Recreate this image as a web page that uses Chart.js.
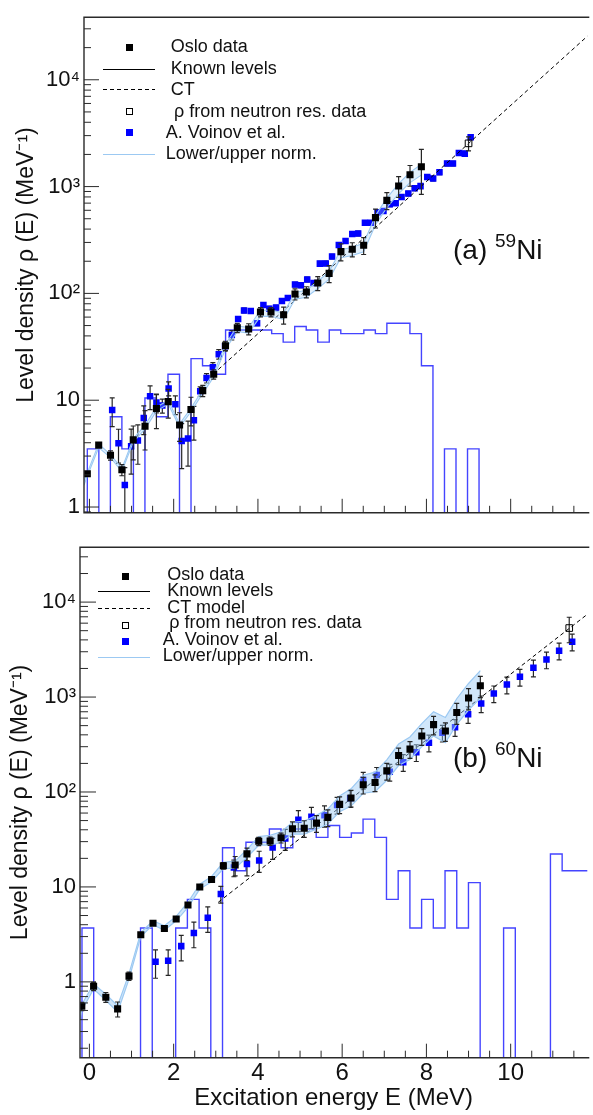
<!DOCTYPE html>
<html>
<head>
<meta charset="utf-8">
<script src="https://cdn.jsdelivr.net/npm/chart.js@4.4.1/dist/chart.umd.min.js"></script>
<style>
  body { margin: 0; background: #fff; }
  #wrap { position: relative; width: 593px; height: 1115px; overflow: hidden;
          font-family: "Liberation Sans", Arial, Helvetica, sans-serif; color: #111; }
  canvas { position: absolute; left: 0; }
  .lg { position: absolute; font-size: 18px; line-height: 18px; white-space: nowrap; }
  .sq { position: absolute; width: 7px; height: 7px; box-sizing: border-box; }
  .ln { position: absolute; width: 52px; height: 1px; }
  .dash { background: repeating-linear-gradient(to right, #000 0 4px, transparent 4px 7px); }
  .tag { position: absolute; font-size: 28px; line-height: 28px; white-space: nowrap; }
  .tag span { font-size: 19px; position: relative; top: -12px; }
</style>
</head>
<body>
<div id="wrap">
  <canvas id="cA" width="593" height="530" style="top:0"></canvas>
  <canvas id="cB" width="593" height="585" style="top:530px"></canvas>

  <!-- legend (a) -->
  <div class="sq" style="left:125.5px;top:43.8px;background:#000"></div>
  <div class="ln" style="left:103px;top:68.5px;background:#000"></div>
  <div class="ln dash" style="left:103px;top:88.5px"></div>
  <div class="sq" style="left:125.5px;top:107.5px;border:1px solid #000"></div>
  <div class="sq" style="left:125.5px;top:129.2px;background:#0000ff"></div>
  <div class="ln" style="left:103px;top:153.5px;height:1.5px;background:#9cc9f2"></div>
  <div class="lg" style="left:170.7px;top:37px">Oslo data</div>
  <div class="lg" style="left:170.7px;top:59.2px">Known levels</div>
  <div class="lg" style="left:170.7px;top:80.2px">CT</div>
  <div class="lg" style="left:174px;top:101.7px">ρ from neutron res. data</div>
  <div class="lg" style="left:165.7px;top:122.7px">A. Voinov et al.</div>
  <div class="lg" style="left:165.7px;top:143.7px">Lower/upper norm.</div>
  <div class="tag" style="left:453px;top:236.3px">(a) <span>59</span>Ni</div>

  <!-- legend (b) -->
  <div class="sq" style="left:121.5px;top:572.5px;background:#000"></div>
  <div class="ln" style="left:98px;top:590.5px;background:#000"></div>
  <div class="ln dash" style="left:98px;top:608px"></div>
  <div class="sq" style="left:121.5px;top:621.5px;border:1px solid #000"></div>
  <div class="sq" style="left:121.5px;top:637.5px;background:#0000ff"></div>
  <div class="ln" style="left:98px;top:656.5px;height:1.5px;background:#9cc9f2"></div>
  <div class="lg" style="left:167.3px;top:564.5px">Oslo data</div>
  <div class="lg" style="left:167.3px;top:581.2px">Known levels</div>
  <div class="lg" style="left:167.3px;top:597.5px">CT model</div>
  <div class="lg" style="left:169.3px;top:612.9px">ρ from neutron res. data</div>
  <div class="lg" style="left:162.7px;top:630.2px">A. Voinov et al.</div>
  <div class="lg" style="left:162.7px;top:646.2px">Lower/upper norm.</div>
  <div class="tag" style="left:453px;top:743.8px">(b) <span>60</span>Ni</div>
</div>

<script>
// ---------- panel (a): 59Ni ----------
const osloAE = [-0.05, 0.22, 0.50, 0.77, 1.04, 1.32, 1.59, 1.87, 2.14, 2.41, 2.69, 2.95, 3.23, 3.51, 3.78,
  4.06, 4.31, 4.61, 4.88, 5.15, 5.42, 5.69, 5.97, 6.24, 6.51, 6.79, 7.06, 7.34, 7.61, 7.88];
const osloAV = [2.05, 3.8, 3.05, 2.23, 4.25, 5.7, 8.35, 9.7, 5.87, 8.2, 12.3, 17.5, 32.4, 47.7, 46.4,
  67, 67, 63, 98.6, 103, 125, 154, 246, 259, 282, 512, 743, 1014, 1291, 1535];
const osloAErr = [0.04, 0.04, 0.1, 0.12, 0.35, 0.4, 0.35, 0.3, 0.3, 0.3, 0.12, 0.1, 0.1, 0.1, 0.12,
  0.1, 0.1, 0.18, 0.12, 0.12, 0.15, 0.18, 0.18, 0.15, 0.18, 0.2, 0.18, 0.22, 0.22, 0.45];

const voinovAE = [0.54, 0.69, 0.84, 0.99, 1.15, 1.29, 1.44, 1.59, 1.73, 1.88, 2.04, 2.19, 2.34, 2.48, 2.63,
  2.78, 2.93, 3.07, 3.22, 3.38, 3.53, 3.67, 3.83, 3.98, 4.13, 4.27, 4.43, 4.57, 4.71, 4.88, 5.02, 5.17,
  5.32, 5.47, 5.61, 5.76, 5.92, 6.08, 6.24, 6.38, 6.54, 6.68, 6.84, 6.98, 7.13, 7.27, 7.41, 7.57, 7.72,
  7.86, 8.02, 8.16, 8.31, 8.49, 8.63, 8.77, 8.91, 9.05];
const voinovAV = [8.1, 3.96, 1.61, 3.7, 4.19, 6.8, 10.9, 9.5, 8.9, 12.9, 9.15, 4.16, 4.39, 6.5, 12.1,
  16.1, 20.4, 27, 32, 40.7, 57.5, 69.3, 68.4, 52.6, 77.8, 72, 73.8, 84.7, 90.7, 121, 119, 135,
  125, 190, 191, 221, 284, 310, 360, 364, 458, 458, 575, 592, 684, 700, 797, 860, 966,
  1010, 1230, 1190, 1365, 1645, 1645, 2066, 2035, 2900];
const voinovAErr = [0.3, 0.35, 0.45, 0.45, 0.4, 0.3, 0.25, 0.2, 0.15, 0.15, 0.2, 0.45, 0.45, 0.35, 0.1,
  0.1, 0.1, 0.1, 0.1, 0.1, 0.05, 0.05, 0.05, 0.05, 0.05, 0.05, 0.05, 0.05, 0.05, 0.05, 0.05, 0.05,
  0.05, 0.05, 0.05, 0.05, 0.05, 0.05, 0.05, 0.05, 0.05, 0.05, 0.05, 0.05, 0.05, 0.05, 0.05, 0.05, 0.05,
  0.05, 0.05, 0.05, 0.05, 0.05, 0.05, 0.05, 0.05, 0.05];

const neutronAE = [9.0];
const neutronAV = [2540];
const neutronAErr = [0.15];

const ctAE = [3.06, 11.83];
const ctAV = [19.4, 25800];

const normAE = [-0.13, -0.05, 0.22, 0.50, 0.77, 1.04, 1.32, 1.59, 1.87, 2.14, 2.41, 2.69, 2.95, 3.23, 3.51,
  3.78, 4.06, 4.31, 4.61, 4.88, 5.15, 5.42, 5.69, 5.97, 6.24, 6.51, 6.79, 7.06, 7.34, 7.61, 7.88];
const normALow = [1.6, 1.95, 3.6, 2.9, 2.15, 4.05, 5.4, 7.9, 9.2, 5.6, 7.8, 11.6, 16.5, 30, 44,
  42.5, 61, 61, 57, 88, 92, 111, 136, 216, 226, 245, 440, 635, 860, 1090, 1280];
const normAHigh = [1.75, 2.1, 3.9, 3.1, 2.3, 4.35, 5.85, 8.6, 10, 6.0, 8.4, 12.6, 18, 33.5, 49.5,
  48, 69.5, 70, 65.5, 102, 107, 130, 160, 256, 270, 295, 535, 780, 1065, 1360, 1620];

// known levels histogram: first bin edge, bin width (MeV), levels per MeV
const levelsAStart = -0.05;
const levelsABin = 0.2735;
const levelsAV = [3.5, 0, 7, 3.5, 0, 10.5, 7, 17.5, 0, 24.5, 21, 17.5, 45.5, 45.5, 45.5, 45.5, 42, 35,
  49, 45.5, 35, 45.5, 42, 42, 45.5, 42, 52.5, 52.5, 42, 21, 0, 3.5, 0, 3.5, 0, 0, 0];

// ---------- panel (b): 60Ni ----------
const osloBE = [-0.18, 0.10, 0.39, 0.67, 0.94, 1.22, 1.51, 1.78, 2.06, 2.34, 2.62, 2.90, 3.18, 3.46, 3.74,
  4.02, 4.29, 4.55, 4.82, 5.10, 5.39, 5.66, 5.94, 6.21, 6.50, 6.78, 7.06, 7.34, 7.61, 7.89, 8.17, 8.45,
  8.72, 9.00, 9.28];
const osloBV = [0.553, 0.90, 0.69, 0.52, 1.15, 3.14, 4.14, 3.65, 4.59, 6.45, 10.0, 12.0, 16.7, 17.0, 22.3,
  30.3, 30.5, 33, 41, 41.5, 47, 54, 74, 86.5, 119, 126, 167, 242, 283, 388, 512, 438,
  686, 979, 1318];
const osloBErr = [0.1, 0.1, 0.12, 0.18, 0.1, 0.05, 0.05, 0.07, 0.05, 0.05, 0.05, 0.05, 0.08, 0.23, 0.15,
  0.1, 0.1, 0.12, 0.18, 0.2, 0.2, 0.2, 0.2, 0.2, 0.2, 0.2, 0.2, 0.2, 0.2, 0.2, 0.22, 0.22,
  0.25, 0.25, 0.25];

const voinovBE = [1.57, 1.87, 2.18, 2.48, 2.81, 3.12, 3.43, 3.74, 4.03, 4.35, 4.65, 4.96, 5.27, 5.58, 5.88,
  6.19, 6.50, 6.82, 7.13, 7.45, 7.76, 8.06, 8.38, 8.68, 8.99, 9.30, 9.60, 9.91, 10.22, 10.54, 10.85,
  11.15, 11.46];
const voinovBV = [1.63, 1.67, 2.38, 3.27, 4.74, 8.43, 16, 17.4, 19.0, 26, 32.3, 51, 55, 57, 73,
  86, 134, 151, 163, 206, 262, 331, 420, 481, 659, 855, 1090, 1352, 1633, 2040, 2483,
  3076, 3830];
const voinovBErr = [0.33, 0.3, 0.3, 0.3, 0.3, 0.2, 0.2, 0.25, 0.25, 0.25, 0.25, 0.25, 0.25, 0.25, 0.2,
  0.2, 0.2, 0.2, 0.2, 0.2, 0.2, 0.2, 0.2, 0.2, 0.2, 0.2, 0.2, 0.2, 0.2, 0.2, 0.2,
  0.2, 0.2];

const neutronBE = [11.39];
const neutronBV = [5330];
const neutronBErr = [0.3];

const ctBE = [3.06, 11.83];
const ctBV = [6.9, 7500];

const normBE = [-0.22, -0.18, 0.10, 0.39, 0.67, 0.94, 1.22, 1.51, 1.78, 2.06, 2.34, 2.62, 2.90, 3.18,
  3.46, 3.74, 4.02, 4.29, 4.55, 4.82, 5.10, 5.39, 5.66, 5.94, 6.21, 6.50, 6.78, 7.06, 7.34, 7.61,
  7.89, 8.17, 8.45, 8.72, 9.00, 9.28];
const normBLow = [0.40, 0.50, 0.84, 0.64, 0.48, 1.07, 3.0, 4.0, 3.5, 4.4, 6.1, 9.5, 11.3, 15.6,
  15.8, 20.5, 27.5, 27.5, 29.5, 36, 36, 40.5, 46, 62, 71, 97, 101, 133, 190, 220,
  300, 390, 330, 515, 730, 975];
const normBHigh = [0.47, 0.58, 0.95, 0.74, 0.56, 1.22, 3.3, 4.4, 3.9, 4.9, 6.9, 10.7, 12.9, 18.2,
  18.7, 24.8, 34, 35, 38, 48, 49.5, 57, 66, 91, 108, 150, 162, 218, 320, 380,
  525, 700, 610, 960, 1390, 1900];

const levelsBStart = -0.176;
const levelsBBin = 0.278;
const levelsBV = [3.7, 0, 0, 0, 0, 3.7, 0, 0, 3.7, 7.4, 3.7, 0, 25.9, 14.8, 29.6, 29.6, 40.7, 25.9,
  40.7, 40.7, 33.3, 44.4, 33.3, 37, 51.8, 33.3, 7.4, 14.8, 3.7, 7.4, 3.7, 14.8, 3.7, 11.1, 0, 0,
  3.7, 0, 0, 0, 22.2, 14.8, 14.8, 14.8];

// ---------- axes ----------
const yTickVals = [1, 10, 100, 1000, 10000];
const yTickLabels = ['1', '10', '10²', '10³', '10⁴'];
const xTickVals = [0, 2, 4, 6, 8, 10];
const xTickLabels = ['0', '2', '4', '6', '8', '10'];
const xMinorStep = 0.5;

const FONT = '"Liberation Sans", Arial, Helvetica, sans-serif';
Chart.defaults.font.family = FONT;
Chart.defaults.color = '#111';

const BLUE = '#0000ff';
const HIST = 'rgba(35,35,255,0.85)';
const NORM = '#9cc9f2';

function pts(xs, ys, errs) {
  return xs.map((x, i) => ({ x: x, y: ys[i], e: errs ? ys[i] * errs[i] : 0 }));
}

// step histogram from left edges; empty bins sit on the axis floor
function histPts(start, bin, vals, floor) {
  const p = [{ x: start, y: floor }];
  vals.forEach((v, i) => p.push({ x: start + i * bin, y: v > 0 ? v : floor }));
  const last = vals[vals.length - 1];
  p.push({ x: start + vals.length * bin, y: last > 0 ? last : floor });
  return p;
}

const errorBars = {
  id: 'errorBars',
  beforeDatasetDraw(chart, args) {
    const ds = chart.data.datasets[args.index];
    if (!ds.errorBars) return;
    const { ctx, chartArea: a, scales: { x, y } } = chart;
    ctx.save();
    ctx.beginPath();
    ctx.rect(a.left, a.top, a.right - a.left, a.bottom - a.top);
    ctx.clip();
    ctx.strokeStyle = '#262626';
    ctx.lineWidth = 1.2;
    ds.data.forEach(p => {
      if (!p.e) return;
      const px = x.getPixelForValue(p.x);
      const top = y.getPixelForValue(p.y + p.e);
      const lo = p.y - p.e;
      const bot = lo > y.min ? y.getPixelForValue(lo) : a.bottom + 2;
      ctx.beginPath();
      ctx.moveTo(px, top); ctx.lineTo(px, bot);
      ctx.moveTo(px - 2.5, top); ctx.lineTo(px + 2.5, top);
      if (lo > y.min) { ctx.moveTo(px - 2.5, bot); ctx.lineTo(px + 2.5, bot); }
      ctx.stroke();
    });
    ctx.restore();
  }
};

const frameTicks = {
  id: 'frameTicks',
  afterDatasetsDraw(chart, args, o) {
    const { ctx, chartArea: a, scales: { x, y } } = chart;
    ctx.save();
    ctx.strokeStyle = '#2a2a2a';
    ctx.lineWidth = 1.4;
    ctx.beginPath();
    ctx.moveTo(a.right + 2, a.top); ctx.lineTo(a.left, a.top);
    ctx.lineTo(a.left, a.bottom); ctx.lineTo(a.right + 2, a.bottom);
    ctx.stroke();
    ctx.lineWidth = 1;
    ctx.beginPath();
    const d0 = Math.floor(Math.log10(y.min)), d1 = Math.ceil(Math.log10(y.max));
    for (let d = d0; d <= d1; d++) {
      for (let m = 1; m < 10; m++) {
        const v = m * Math.pow(10, d);
        if (v < y.min || v > y.max) continue;
        const py = y.getPixelForValue(v);
        ctx.moveTo(a.left, py); ctx.lineTo(a.left + (m === 1 ? o.yMajor : o.yMinor), py);
      }
    }
    for (let v = Math.ceil(x.min / xMinorStep) * xMinorStep; v <= x.max; v += xMinorStep) {
      const px = x.getPixelForValue(v);
      const major = Math.abs(v / 2 - Math.round(v / 2)) < 1e-6;
      ctx.moveTo(px, a.bottom); ctx.lineTo(px, a.bottom - (major ? o.xMajor : o.xMinor));
    }
    ctx.stroke();
    ctx.restore();
  }
};

function yAxis(min, max, width, titlePad) {
  return {
    type: 'logarithmic', min: min, max: max, bounds: 'data',
    afterFit: s => { s.width = width; },
    afterBuildTicks: s => { s.ticks = yTickVals.map(v => ({ value: v })); },
    ticks: { callback: v => yTickLabels[yTickVals.indexOf(v)], font: { size: 22 }, padding: 4,
             autoSkip: false, color: '#111' },
    grid: { display: false, drawTicks: false },
    border: { display: false },
    title: { display: true, text: 'Level density ρ (E) (MeV⁻¹)', font: { size: 23 },
             padding: { top: titlePad, bottom: 0 }, color: '#111' }
  };
}

function ds(label, data, extra) {
  return Object.assign({ label: label, data: data, pointRadius: 0, borderWidth: 0, showLine: false,
    pointHoverRadius: 0 }, extra);
}

const commonOpts = {
  responsive: false, animation: false, devicePixelRatio: 1,
  plugins: { legend: { display: false }, tooltip: { enabled: false } }
};

// panel (a)
const yMinA = 0.883, yMaxA = 38530;
new Chart(document.getElementById('cA'), {
  type: 'line',
  data: { datasets: [
    ds('neutron', pts(neutronAE, neutronAV, neutronAErr), { order: 0, pointStyle: 'rect', pointRadius: 4.7,
      pointBackgroundColor: 'rgba(255,255,255,0)', pointBorderColor: '#000', pointBorderWidth: 1, errorBars: true }),
    ds('Oslo', pts(osloAE, osloAV, osloAErr), { order: 1, pointStyle: 'rect', pointRadius: 5,
      pointBackgroundColor: '#000', pointBorderWidth: 0, errorBars: true }),
    ds('low', pts(normAE, normALow), { order: 2, showLine: true, borderColor: NORM, borderWidth: 1.1 }),
    ds('high', pts(normAE, normAHigh), { order: 2, showLine: true, borderColor: NORM, borderWidth: 1.1,
      fill: '-1', backgroundColor: 'rgba(160,205,245,0.3)' }),
    ds('CT', pts(ctAE, ctAV), { order: 3, showLine: true, borderColor: '#000', borderWidth: 1, borderDash: [4, 3] }),
    ds('Voinov', pts(voinovAE, voinovAV, voinovAErr), { order: 4, pointStyle: 'rect', pointRadius: 4.6,
      pointBackgroundColor: BLUE, pointBorderWidth: 0, errorBars: true }),
    ds('levels', histPts(levelsAStart, levelsABin, levelsAV, yMinA), { order: 5, showLine: true,
      stepped: 'before', borderColor: HIST, borderWidth: 1.4 })
  ] },
  options: Object.assign({}, commonOpts, {
    layout: { padding: { top: 4, right: 0, bottom: 11, left: 0 } },
    plugins: Object.assign({}, commonOpts.plugins, { frameTicks: { yMajor: 15, yMinor: 7, xMajor: 14, xMinor: 7 } }),
    scales: {
      x: { type: 'linear', min: -0.129, max: 11.819, display: false },
      y: yAxis(yMinA, yMaxA, 84, 13.2)
    }
  }),
  plugins: [errorBars, frameTicks]
});

// panel (b)
const yMinB = 0.159, yMaxB = 37870;
new Chart(document.getElementById('cB'), {
  type: 'line',
  data: { datasets: [
    ds('neutron', pts(neutronBE, neutronBV, neutronBErr), { order: 0, pointStyle: 'rect', pointRadius: 4.7,
      pointBackgroundColor: 'rgba(255,255,255,0)', pointBorderColor: '#000', pointBorderWidth: 1, errorBars: true }),
    ds('Oslo', pts(osloBE, osloBV, osloBErr), { order: 1, pointStyle: 'rect', pointRadius: 5,
      pointBackgroundColor: '#000', pointBorderWidth: 0, errorBars: true }),
    ds('low', pts(normBE, normBLow), { order: 2, showLine: true, borderColor: NORM, borderWidth: 1.2 }),
    ds('high', pts(normBE, normBHigh), { order: 2, showLine: true, borderColor: NORM, borderWidth: 1.2,
      fill: '-1', backgroundColor: 'rgba(150,200,245,0.45)' }),
    ds('CT', pts(ctBE, ctBV), { order: 3, showLine: true, borderColor: '#000', borderWidth: 1, borderDash: [4, 3] }),
    ds('Voinov', pts(voinovBE, voinovBV, voinovBErr), { order: 4, pointStyle: 'rect', pointRadius: 4.6,
      pointBackgroundColor: BLUE, pointBorderWidth: 0, errorBars: true }),
    ds('levels', histPts(levelsBStart, levelsBBin, levelsBV, yMinB), { order: 5, showLine: true,
      stepped: 'before', borderColor: HIST, borderWidth: 1.4 })
  ] },
  options: Object.assign({}, commonOpts, {
    layout: { padding: { top: 5, right: 0, bottom: 0, left: 0 } },
    plugins: Object.assign({}, commonOpts.plugins, { frameTicks: { yMajor: 16, yMinor: 8, xMajor: 14, xMinor: 7 } }),
    scales: {
      x: {
        type: 'linear', min: -0.223, max: 11.819, bounds: 'data',
        afterFit: s => { s.height = 57.3; },
        afterBuildTicks: s => { s.ticks = xTickVals.map(v => ({ value: v })); },
        ticks: { callback: v => xTickLabels[xTickVals.indexOf(v)], font: { size: 24 }, padding: 1,
                 maxRotation: 0, autoSkip: false, color: '#111' },
        grid: { display: false, drawTicks: false },
        border: { display: false },
        title: { display: true, text: 'Excitation energy E (MeV)', font: { size: 24 },
                 padding: { top: 0, bottom: 2.6 }, color: '#111' }
      },
      y: yAxis(yMinB, yMaxB, 80, 7.2)
    }
  }),
  plugins: [errorBars, frameTicks]
});
</script>
</body>
</html>
